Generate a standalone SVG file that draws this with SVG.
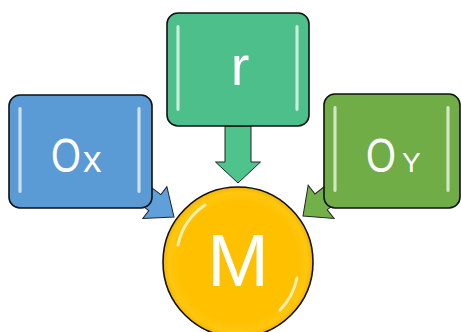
<svg xmlns="http://www.w3.org/2000/svg" width="461" height="332" viewBox="0 0 461 332">
  <defs>
    <linearGradient id="hl" x1="0" y1="0" x2="1" y2="0">
      <stop offset="0" stop-color="#ffffff" stop-opacity="0.25"/>
      <stop offset="0.5" stop-color="#ffffff" stop-opacity="0.85"/>
      <stop offset="1" stop-color="#ffffff" stop-opacity="0.25"/>
    </linearGradient>
    <radialGradient id="sun" cx="0.5" cy="0.5" r="0.5">
      <stop offset="0.8" stop-color="#FFC000"/>
      <stop offset="0.93" stop-color="#FFC70F"/>
      <stop offset="1" stop-color="#F5B400"/>
    </radialGradient>
  </defs>
  <style>
    .box { stroke: #111; stroke-width: 1.6; }
    .arrow { stroke: #222; stroke-width: 1; stroke-linejoin: miter; }
    .shine { fill: url(#hl); }
    .lbl { font-family: "Liberation Sans", Arial, sans-serif; fill: #ffffff; }
  </style>

  <g id="connectors">
    <polygon class="arrow" fill="#4EC38B" transform="translate(238,183) rotate(90)" points="0,0 -21,-22.5 -21,-13 -57,-13 -57,13 -21,13 -21,22.5"/>
    <polygon class="arrow" fill="#5FA0DA" transform="translate(174,217) rotate(37)" points="0,0 -24,-20 -24,-10 -60,-10 -60,10 -24,10 -24,20"/>
    <polygon class="arrow" fill="#72B04A" transform="translate(303,216) rotate(142)" points="0,0 -23,-21 -23,-10 -60,-10 -60,10 -23,10 -23,21"/>
  </g>

  <g id="node-ox">
    <rect class="box" x="9" y="95" width="143" height="113" rx="11" fill="#5B9BD5"/>
    <rect class="shine" x="18" y="107" width="4" height="86" rx="2"/>
    <rect class="shine" x="137" y="107" width="4" height="86" rx="2"/>
    <text class="lbl" transform="translate(51,172) scale(0.8,1)" font-size="48">O</text>
    <text class="lbl" x="83" y="172" font-size="37">x</text>
  </g>

  <g id="node-r">
    <rect class="box" x="167" y="13" width="142" height="113" rx="11" fill="#4DBF8A"/>
    <rect class="shine" x="176" y="25" width="4" height="86" rx="2"/>
    <rect class="shine" x="295" y="25" width="4" height="86" rx="2"/>
    <text class="lbl" x="240" y="85" font-size="56" text-anchor="middle">r</text>
  </g>

  <g id="node-oy">
    <rect class="box" x="324" y="94" width="136" height="114" rx="11" fill="#70AD47"/>
    <rect class="shine" x="333" y="106" width="4" height="86" rx="2"/>
    <rect class="shine" x="446" y="106" width="4" height="86" rx="2"/>
    <text class="lbl" transform="translate(366,172) scale(0.8,1)" font-size="48">O</text>
    <text class="lbl" x="402" y="172" font-size="28">Y</text>
  </g>

  <g id="node-m">
    <circle cx="238" cy="262" r="75" fill="url(#sun)" stroke="#111" stroke-width="1.6"/>
    <path d="M178,245 A64,64 0 0 1 205,205" fill="none" stroke="#FFF3C0" stroke-width="3" stroke-linecap="round" opacity="0.9"/>
    <path d="M297,278 A64,64 0 0 1 280,310" fill="none" stroke="#FFF3C0" stroke-width="3" stroke-linecap="round" opacity="0.9"/>
    <text class="lbl" x="238" y="286" font-size="74" text-anchor="middle">M</text>
  </g>
</svg>
